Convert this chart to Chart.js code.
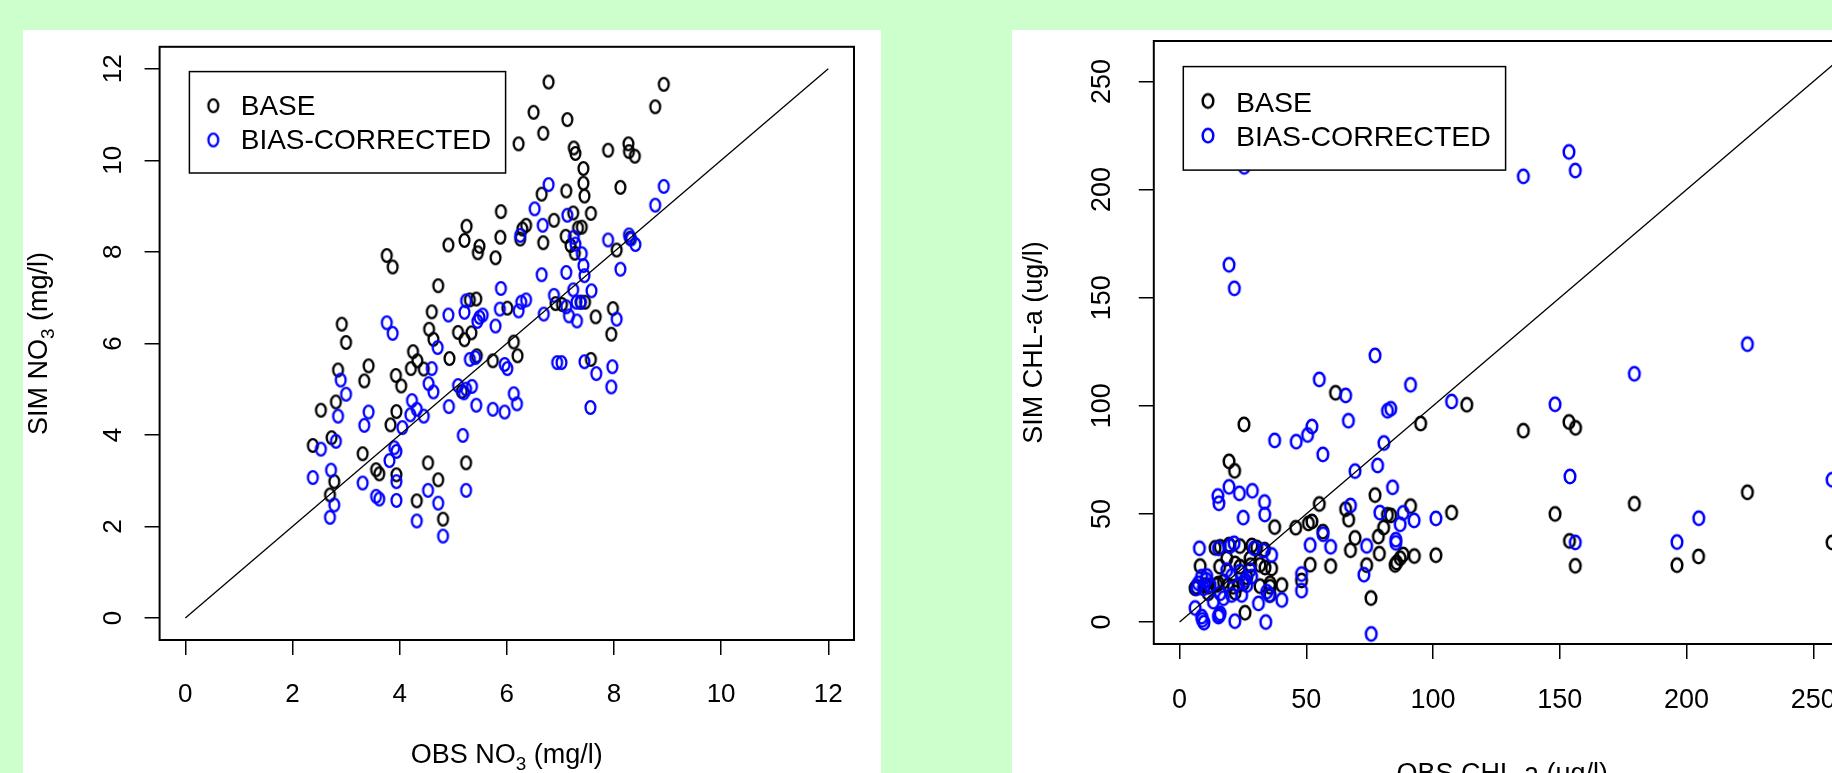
<!DOCTYPE html>
<html>
<head>
  <meta charset="UTF-8">
  <title>NO3 and CHL-a: simulated vs observed</title>
  <script src="https://cdn.jsdelivr.net/npm/chart.js"></script>
  <style>
    html, body { margin: 0; padding: 0; width: 1832px; height: 773px; overflow: hidden; background: #ccffcc; }
    .panel { position: absolute; background: #fff; }
    #leftPanel { left: 23px; top: 30px; width: 858px; height: 800px; }
    #rightPanel { left: 1012px; top: 30px; width: 880px; height: 800px; }
  </style>
</head>
<body>
  <div id="leftPanel" class="panel"><canvas id="no3Chart" width="858" height="800"></canvas></div>
  <div id="rightPanel" class="panel"><canvas id="chlChart" width="880" height="800"></canvas></div>

  <script>
    // ---- data ----
    const legendLabels = ['BASE', 'BIAS-CORRECTED'];

    const no3Ticks = [0, 2, 4, 6, 8, 10, 12];
    const chlTicks = [0, 50, 100, 150, 200, 250];

    // NO3, BASE run (obs, sim)
    const no3BaseObs = [6.78, 8.93, 8.77, 6.50, 7.13, 6.68, 6.22, 7.25, 7.28, 7.89, 8.27, 8.28, 8.39, 7.43, 7.43, 7.45,
      8.12, 7.11, 6.65, 5.89, 6.88, 7.24, 7.57, 7.33, 7.40, 6.36, 6.29, 6.25, 6.68, 7.10, 7.19, 7.27, 8.05, 5.88,
      5.25, 5.21, 4.91, 5.49, 5.46, 5.79, 3.76, 3.87, 4.72, 5.31, 5.43, 6.01, 6.91, 7.03, 7.38, 7.46, 7.66, 7.98,
      7.95, 4.60, 4.55, 4.63, 5.09, 5.21, 5.34, 4.25, 6.13, 6.20, 4.93, 5.44, 5.74, 7.57, 4.21, 4.33, 4.45, 3.93,
      4.03, 3.94, 3.83, 5.16, 2.92, 3.00, 2.85, 3.42, 3.34, 2.81, 2.53, 2.73, 2.38, 3.31, 4.53, 5.24, 3.56, 3.62,
      3.94, 4.72, 2.78, 2.70, 4.32, 4.81, 8.30];
    const no3BaseSim = [11.71, 11.66, 11.17, 11.05, 10.89, 10.59, 10.36, 10.27, 10.15, 10.22, 10.36, 10.19, 10.09, 9.82, 9.50, 9.22,
      9.41, 9.33, 9.26, 8.88, 8.69, 8.85, 8.84, 8.52, 8.54, 8.58, 8.50, 8.28, 8.20, 8.34, 8.14, 7.97, 8.04, 8.32,
      8.56, 8.25, 8.15, 8.12, 7.98, 7.87, 7.92, 7.67, 7.26, 6.95, 6.97, 6.77, 6.87, 6.85, 6.90, 6.90, 6.58, 6.76,
      6.20, 6.69, 6.31, 6.09, 6.24, 6.08, 6.23, 5.82, 6.03, 5.73, 5.67, 5.73, 5.62, 5.65, 5.45, 5.62, 5.44, 5.30,
      5.07, 4.51, 4.22, 4.95, 6.42, 6.02, 5.42, 5.51, 5.18, 4.72, 4.54, 3.94, 3.77, 3.59, 3.39, 3.39, 3.24, 3.15,
      3.13, 3.02, 2.98, 2.69, 2.56, 2.16, 8.30];

    // NO3, BIAS-CORRECTED run (obs, sim)
    const no3CorrObs = [6.78, 6.52, 6.67, 7.13, 6.25, 7.25, 7.28, 7.40, 7.43, 7.45, 7.89, 8.28, 8.32, 8.40, 8.12, 6.65,
      7.11, 7.58, 7.24, 5.89, 6.88, 7.30, 7.38, 7.11, 7.16, 7.31, 6.69, 6.27, 6.36, 6.22, 8.05, 5.24, 5.87, 5.79,
      5.49, 5.45, 5.55, 5.21, 4.91, 3.76, 3.87, 4.71, 5.31, 5.41, 5.96, 6.01, 6.94, 7.02, 7.45, 7.67, 7.97, 7.95,
      7.56, 4.60, 4.54, 4.63, 5.09, 5.24, 5.35, 6.13, 6.19, 5.43, 5.74, 5.96, 4.92, 4.23, 4.32, 4.20, 4.45, 4.05,
      2.90, 3.00, 2.85, 3.42, 3.34, 2.81, 2.53, 3.94, 3.90, 3.81, 2.38, 2.72, 3.31, 3.94, 3.56, 3.62, 3.94, 4.53,
      5.24, 4.72, 2.78, 2.70, 4.32, 4.81, 5.18, 5.20, 8.93, 8.77];
    const no3CorrSim = [9.47, 8.94, 8.58, 8.80, 8.36, 8.32, 8.17, 7.96, 7.70, 7.48, 8.26, 8.37, 8.28, 8.16, 7.62, 7.50,
      7.55, 7.15, 7.17, 7.20, 7.05, 6.90, 6.90, 6.80, 6.60, 6.49, 6.64, 6.90, 6.95, 6.71, 6.53, 6.93, 6.75, 6.38,
      6.57, 6.48, 6.62, 6.68, 6.62, 6.45, 6.22, 5.91, 5.65, 5.69, 5.54, 5.45, 5.58, 5.58, 5.60, 5.34, 5.49, 5.05,
      4.60, 5.45, 5.12, 4.94, 5.08, 5.00, 5.06, 4.90, 4.68, 4.65, 4.56, 4.50, 4.62, 4.75, 4.56, 4.44, 4.41, 4.16,
      5.20, 4.89, 4.41, 4.50, 4.21, 3.86, 3.69, 3.64, 3.72, 3.44, 3.07, 3.23, 2.95, 2.98, 2.66, 2.60, 2.57, 2.79,
      2.79, 2.51, 2.47, 2.20, 2.12, 1.79, 3.99, 4.92, 9.43, 9.02];

    // CHL-a, BASE run (obs, sim)
    const chlBaseObs = [61.5, 113.3, 25.4, 95.1, 135.6, 153.6, 156.2, 19.5, 21.7, 77.1, 55.1, 65.5, 66.7, 91.1, 82.0, 83.3,
      107.3, 148.1, 179.4, 224.0, 257.4, 204.7, 196.2, 153.8, 156.1, 37.5, 45.8, 50.8, 52.2, 56.5, 80.5, 78.4,
      69.2, 67.4, 78.8, 92.6, 101.1, 88.2, 87.0, 85.6, 85.0, 51.5, 59.6, 73.8, 75.5, 48.1, 25.8,
      16.0, 19.5, 23.8, 28.5, 30.4, 33.5, 14.0, 8.1, 15.8, 18.6, 21.9, 23.8, 27.8, 28.0, 31.7, 33.7, 36.3,
      6.1, 6.7, 10.0, 11.3, 14.6, 15.3, 17.3, 19.2, 21.2, 23.2, 25.1, 26.5, 31.7, 35.7, 35.7, 40.3, 11.3, 21.9, 35.7];
    const chlBaseSim = [106.0, 100.5, 91.4, 91.8, 88.5, 92.5, 89.8, 74.3, 69.9, 58.7, 54.6, 52.2, 47.3, 53.6, 49.6, 49.3,
      50.6, 50.0, 54.7, 60.0, 36.8, 30.3, 26.3, 37.5, 26.0, 43.9, 43.6, 45.6, 46.5, 41.8, 43.7, 39.5,
      38.9, 33.2, 31.6, 30.5, 30.9, 31.2, 29.5, 27.5, 26.4, 26.5, 25.9, 26.3, 11.1, 19.2, 4.3,
      34.8, 35.8, 35.1, 35.4, 34.5, 33.5, 34.3, 25.9, 25.6, 29.4, 27.1, 25.6, 29.4, 26.3, 26.4, 25.2, 24.8,
      15.6, 16.3, 17.1, 16.3, 17.1, 17.8, 18.7, 17.1, 16.3, 17.1, 17.8, 20.7, 16.6, 17.9, 16.3, 17.1, 13.3, 13.6, 12.5];

    // CHL-a, BIAS-CORRECTED run (obs, sim)
    const chlCorrObs = [153.6, 156.1, 135.6, 25.5, 19.5, 21.6, 224.0, 179.4, 77.1, 55.1, 91.1, 65.5, 107.3, 148.1, 82.0, 83.3,
      52.2, 50.5, 37.5, 46.0, 66.6, 56.5, 80.6, 69.2, 78.1, 154.0, 257.4, 84.0, 19.5, 28.7, 23.6, 15.1, 15.5,
      33.5, 25.1, 33.6, 67.4, 79.0, 88.2, 101.1, 92.5, 87.0, 204.8, 196.2, 156.1, 85.3, 85.3, 56.6, 51.5, 59.6,
      73.8, 72.7, 48.1, 48.1, 75.6, 34.0, 21.8, 9.0, 9.6, 15.6, 16.0, 6.1, 31.1, 40.3,
      7.8, 15.3, 19.9, 21.5, 29.4, 33.0, 36.3, 8.7, 10.7, 7.4, 9.4, 6.7, 12.0, 18.6, 20.5, 23.8, 27.8, 28.4,
      25.8, 26.5, 16.0, 17.3, 13.3, 20.5, 24.5, 8.7, 15.3, 34.4, 35.4, 10.5];
    const chlCorrSim = [217.4, 208.8, 206.1, 210.5, 165.2, 154.3, 128.5, 114.8, 123.3, 112.2, 109.7, 104.8, 102.0, 100.7, 97.7, 98.6,
      90.4, 86.5, 84.0, 83.4, 93.1, 77.5, 82.8, 69.8, 72.4, 67.3, 65.8, 62.3, 62.5, 60.7, 59.5, 58.3, 54.9,
      55.5, 48.3, 49.7, 53.9, 50.6, 50.5, 47.9, 47.0, 45.2, 48.0, 37.0, 36.8, 38.1, 36.6, 40.6, 35.6, 34.8,
      35.2, 21.9, 22.2, 14.5, -5.5, 0.0, 0.4, 1.0, -0.3, 3.2, 4.0, 6.5, 8.6, 10.2,
      34.1, 34.1, 35.1, 36.4, 34.1, 33.0, 31.0, 21.0, 21.3, 17.9, 15.6, 15.6, 17.1, 24.0, 21.3, 23.3, 24.0, 21.0,
      19.4, 17.1, 13.3, 11.0, 9.4, 12.5, 12.5, 2.5, 2.5, 14.0, 12.5, 19.5];

    // ---- helpers ----
    const FONT = '"Liberation Sans", Arial, Helvetica, sans-serif';

    function pairs(xs, ys) {
      return xs.map((x, i) => ({ x: x, y: ys[i] }));
    }

    // R style open circle (pch = 1), a little taller than wide as in the picture
    function ring(color, rx, ry, lw) {
      const c = document.createElement('canvas');
      c.width = Math.ceil(2 * rx + lw + 2);
      c.height = Math.ceil(2 * ry + lw + 2);
      const g = c.getContext('2d');
      g.strokeStyle = color;
      g.lineWidth = lw;
      g.beginPath();
      g.ellipse(c.width / 2, c.height / 2, rx, ry, 0, 0, 2 * Math.PI);
      g.stroke();
      return c;
    }

    function drawParts(ctx, parts, size, cx, base) {
      let total = 0;
      parts.forEach(p => {
        ctx.font = (p.sub ? size * 0.7 : size) + 'px ' + FONT;
        p.w = ctx.measureText(p.t).width;
        total += p.w;
      });
      let x = cx - total / 2;
      ctx.textAlign = 'left';
      ctx.textBaseline = 'alphabetic';
      parts.forEach(p => {
        ctx.font = (p.sub ? size * 0.7 : size) + 'px ' + FONT;
        ctx.fillText(p.t, x, p.sub ? base + size * 0.25 : base);
        x += p.w;
      });
    }

    // box, tick labels, axis titles and legend drawn the way R does it
    const rDecor = {
      id: 'rDecor',
      afterDraw(chart, args, o) {
        const ctx = chart.ctx;
        const a = chart.chartArea;
        const xs = chart.scales.x, ys = chart.scales.y;
        ctx.save();
        ctx.strokeStyle = '#000';
        ctx.fillStyle = '#000';

        ctx.lineWidth = 2;
        ctx.strokeRect(a.left, a.top, a.right - a.left, a.bottom - a.top);

        ctx.font = o.tickSize + 'px ' + FONT;
        ctx.textAlign = 'center';
        ctx.textBaseline = 'alphabetic';
        xs.ticks.forEach(t => ctx.fillText(String(t.value), xs.getPixelForValue(t.value), o.xTickBase));
        ys.ticks.forEach(t => {
          ctx.save();
          ctx.translate(o.yTickBase, ys.getPixelForValue(t.value));
          ctx.rotate(-Math.PI / 2);
          ctx.fillText(String(t.value), 0, 0);
          ctx.restore();
        });

        drawParts(ctx, o.xTitle, o.titleSize, (a.left + a.right) / 2, o.xTitleBase);
        ctx.save();
        ctx.translate(o.yTitleBase, (a.top + a.bottom) / 2);
        ctx.rotate(-Math.PI / 2);
        drawParts(ctx, o.yTitle, o.titleSize, 0, 0);
        ctx.restore();

        const L = o.legend;
        ctx.fillStyle = '#fff';
        ctx.fillRect(L.x0, L.y0, L.x1 - L.x0, L.y1 - L.y0);
        ctx.lineWidth = 1.5;
        ctx.strokeRect(L.x0, L.y0, L.x1 - L.x0, L.y1 - L.y0);
        ctx.font = L.size + 'px ' + FONT;
        ctx.textAlign = 'left';
        ctx.fillStyle = '#000';
        [0, 1].forEach(i => {
          const ds = chart.data.datasets[i];
          const img = ds.pointStyle;
          ctx.drawImage(img, L.symX - img.width / 2, L.symY[i] - img.height / 2);
          ctx.fillText(ds.label, L.textX, L.textBase[i]);
        });
        ctx.restore();
      }
    };

    function makeChart(id, cfg) {
      const canvas = document.getElementById(id);
      const W = canvas.width, H = canvas.height, area = cfg.area;
      const axis = (min, max, ticks, fit) => ({
        type: 'linear',
        min: min,
        max: max,
        afterBuildTicks: s => { s.ticks = ticks.map(v => ({ value: v })); },
        afterFit: fit,
        ticks: { display: false },
        grid: { display: true, drawOnChartArea: false, drawTicks: true, tickLength: 15, color: '#000', lineWidth: 1.5 },
        border: { display: false }
      });
      return new Chart(canvas.getContext('2d'), {
        type: 'scatter',
        data: {
          datasets: [
            { label: legendLabels[0], data: cfg.base, pointStyle: ring('#000000', cfg.rx, cfg.ry, cfg.lw), order: 2 },
            { label: legendLabels[1], data: cfg.corr, pointStyle: ring('#0000ff', cfg.rx, cfg.ry, cfg.lw), order: 1 },
            { label: '1:1', data: cfg.diag, showLine: true, pointRadius: 0, borderColor: '#000', borderWidth: 1.3, order: 0 }
          ]
        },
        options: {
          responsive: false,
          animation: false,
          layout: { padding: { left: 0, top: area.top, right: W - area.right, bottom: 0 } },
          scales: {
            x: axis(cfg.min[0], cfg.max[0], cfg.ticks, s => { s.height = H - area.bottom; }),
            y: axis(cfg.min[1], cfg.max[1], cfg.ticks, s => { s.width = area.left; })
          },
          plugins: {
            legend: { display: false },
            tooltip: { enabled: false },
            rDecor: cfg.decor
          }
        },
        plugins: [rDecor]
      });
    }

    makeChart('no3Chart', {
      area: { left: 136.6, top: 16.8, right: 831, bottom: 610 },
      min: [-0.48, -0.48], max: [12.48, 12.48],
      ticks: no3Ticks,
      base: pairs(no3BaseObs, no3BaseSim),
      corr: pairs(no3CorrObs, no3CorrSim),
      diag: [{ x: 0, y: 0 }, { x: 12, y: 12 }],
      rx: 4.9, ry: 6.3, lw: 2.3,
      decor: {
        tickSize: 26, xTickBase: 671.5, yTickBase: 97.5,
        titleSize: 27, xTitleBase: 733.3, yTitleBase: 24,
        xTitle: [{ t: 'OBS NO' }, { t: '3', sub: true }, { t: ' (mg/l)' }],
        yTitle: [{ t: 'SIM NO' }, { t: '3', sub: true }, { t: ' (mg/l)' }],
        legend: { x0: 166.4, y0: 41.6, x1: 482.6, y1: 143, symX: 190.3, symY: [75.7, 110],
                  textX: 217.7, textBase: [85, 119.3], size: 28 }
      }
    });

    makeChart('chlChart', {
      area: { left: 141.8, top: 11, right: 838.6, bottom: 614 },
      min: [-10.18, -10.17], max: [264.7, 268.7],
      ticks: chlTicks,
      base: pairs(chlBaseObs, chlBaseSim),
      corr: pairs(chlCorrObs, chlCorrSim),
      diag: [{ x: 0, y: 0 }, { x: 290, y: 290 }],
      rx: 5.3, ry: 6.8, lw: 2.5,
      decor: {
        tickSize: 27, xTickBase: 677.6, yTickBase: 98,
        titleSize: 27, xTitleBase: 752, yTitleBase: 29.5,
        xTitle: [{ t: 'OBS CHL-a (ug/l)' }],
        yTitle: [{ t: 'SIM CHL-a (ug/l)' }],
        legend: { x0: 171.3, y0: 36.6, x1: 493.6, y1: 140.1, symX: 196, symY: [71, 105.6],
                  textX: 224, textBase: [82.4, 116.4], size: 28.5 }
      }
    });
  </script>
</body>
</html>
